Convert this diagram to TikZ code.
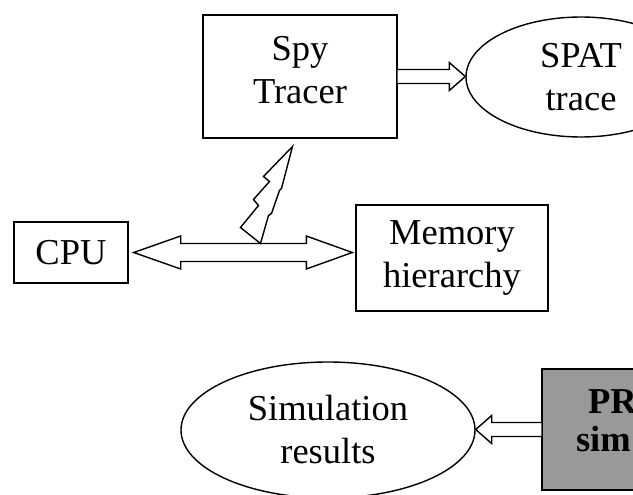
\documentclass[tikz,border=0pt]{standalone}
\usepackage{fontspec}
\setmainfont{Liberation Serif}
\usetikzlibrary{shapes.geometric,calc}
\definecolor{SimGray}{HTML}{999999}

% hollow block arrow from tail #1 to tip #2
\newcommand{\hollowarrow}[2]{%
  \draw[hollow] let \p1=(#1), \p2=(#2), \n1={16*sign(\x2-\x1)} in
    (\x1,\y1+7pt) -- ({\x2-(\n1)*1pt},\y1+7pt) -- ({\x2-(\n1)*1pt},\y1+14pt)
    -- (\x2,\y1) -- ({\x2-(\n1)*1pt},\y1-14pt) -- ({\x2-(\n1)*1pt},\y1-7pt) -- (\x1,\y1-7pt);
}

\begin{document}
\begin{tikzpicture}[x=1pt, y=-1pt, line width=1.4pt,
    every node/.style={font=\fontsize{36.5}{43}\selectfont, align=center, inner sep=0pt},
    unit/.style={draw, rectangle},
    result/.style={draw, ellipse},
    hollow/.style={draw, fill=white, line width=1.4pt, line join=miter},
    bolt/.style={draw, line width=1.4pt, line join=miter}]
    % Page
    \useasboundingbox (0,0) rectangle (633,495);
    \clip (0,0) rectangle (633,495);

    % Nodes
    \node[unit, minimum width=194pt, minimum height=123pt] (spy) at (300,76.5) {Spy\\Tracer\strut};
    \node[result, minimum width=230pt, minimum height=120pt] (spat) at (581,77) {SPAT\\trace};
    \node[unit, minimum width=114pt, minimum height=61pt] (cpu) at (71,252.5) {CPU};
    \node[unit, minimum width=192pt, minimum height=106pt] (mem) at (452,258) {Memory\\hierarchy};
    \node[result, minimum width=294pt, minimum height=136pt] (sim) at (328,430) {Simulation\\results};
    \node[unit, fill=SimGray, minimum width=200pt, minimum height=121pt, text width=132pt, align=left,
          font=\fontsize{36.5}{38}\selectfont\bfseries] (psim) at (642,429.5)
          {\hspace*{12pt}PR\\sim\rule[-17pt]{0pt}{17pt}};

    % Arrows
    \hollowarrow{spy.east}{spat.west}
    \hollowarrow{psim.west}{sim.east}

    % Bus
    \coordinate (busL) at ([xshift=5pt]cpu.east);
    \coordinate (busR) at ([xshift=-3pt]mem.west |- cpu.east);
    \draw[hollow] let \p1=(busL), \p2=(busR) in
        (\x1,\y1) -- (\x1+47pt,\y1+16.5pt) -- (\x1+47pt,\y1+9pt) -- (\x2-46pt,\y1+9pt)
        -- (\x2-46pt,\y1+16.5pt) -- (\x2,\y1) -- (\x2-46pt,\y1-16.5pt) -- (\x2-46pt,\y1-9pt)
        -- (\x1+47pt,\y1-9pt) -- (\x1+47pt,\y1-16.5pt) -- cycle;

    % Trace probe
    \coordinate (zap) at ($(busL)!0.58!(busR)+(0,-9)$);
    \draw[bolt, shift={(zap)}] (0,0) -- (-20,-16) -- (-2,-38) -- (-7,-44) -- (9,-62) -- (3,-67)
        -- (32,-97) -- (21,-55) -- (19,-53) -- (11,-30) -- (8,-28) -- cycle;
\end{tikzpicture}
\end{document}
